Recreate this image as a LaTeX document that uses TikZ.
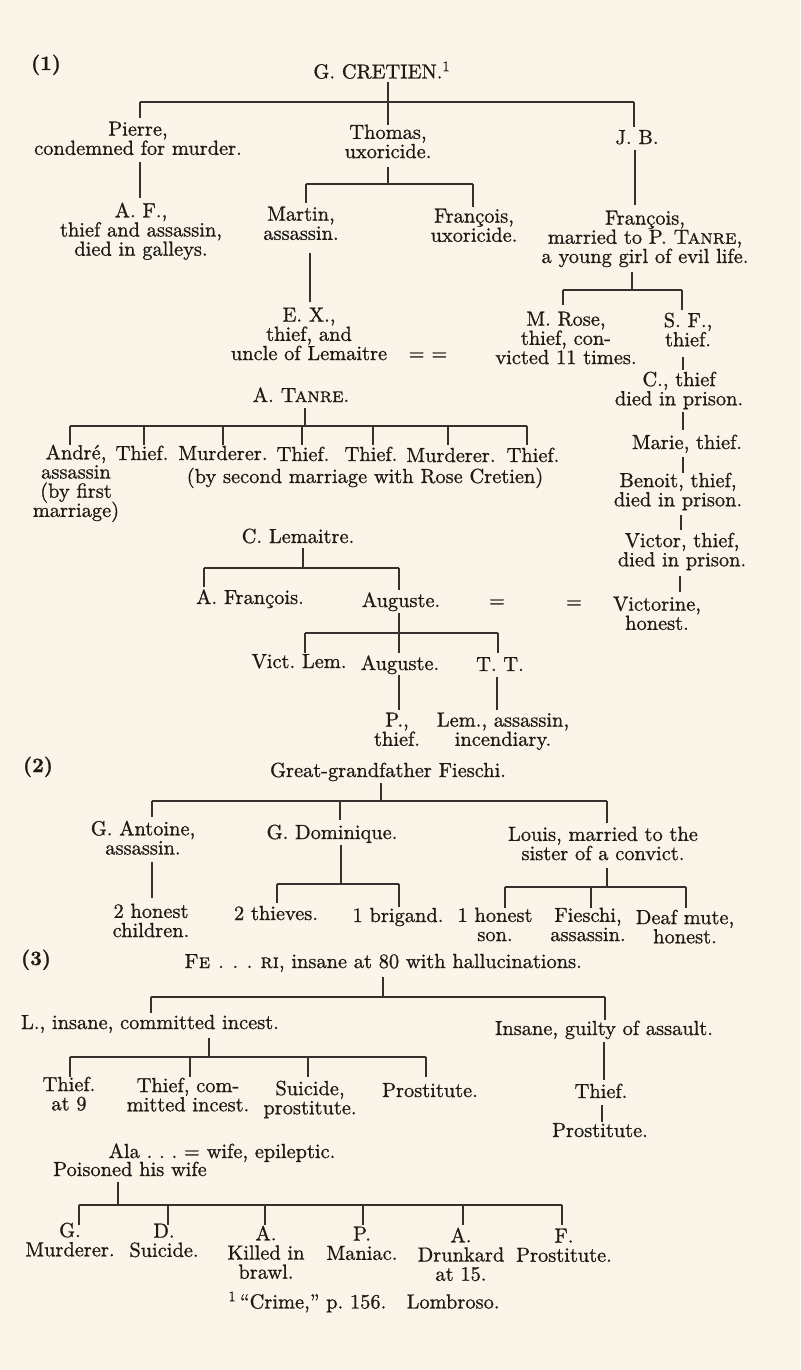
\documentclass[tikz,border=0pt]{standalone}
\usepackage{fontspec}
\setmainfont{lmroman10-regular}[Extension=.otf, BoldFont=lmroman10-bold, SmallCapsFont=lmromancaps10-regular, FakeBold=0.9]
\usepackage{xcolor}
\definecolor{paper}{HTML}{FAF5E8}
\definecolor{ink}{HTML}{1E1A17}
\newcommand\lblfont{\fontsize{10.2}{9.6}\selectfont\frenchspacing\lineskiplimit=-20pt\relax}
\newcommand\lblstrut{\leavevmode\vrule width 0pt height 7.65pt depth 0pt\relax}
\begin{document}
\begin{tikzpicture}[x=0.5pt,y=-0.5pt,
  lbl/.style={anchor=north, yshift=7.65pt, inner sep=0pt, outer sep=0pt, align=center, text=ink,
    font=\lblfont, execute at begin node=\lblstrut},
  ln/.style={draw=ink!90, line width=0.55pt}]
\fill[paper] (0,0) rectangle (800,1370);
\useasboundingbox (0,0) rectangle (800,1370);

% ---------------- (1) Cretien ----------------
\node[lbl] (n1) at (46,70) {\textbf{(1)}};
\node[lbl] (gc) at (382,77) {G. CRETIEN.\textsuperscript{1}};
\node[lbl] (pierre) at (138,137) {Pierre,\\condemned for murder.};
\node[lbl] (thomas) at (388,140) {Thomas,\\uxoricide.};
\node[lbl] (jb) at (637,144) {J. B.};
\node[lbl] (af) at (141,218) {A. F.,\\thief and assassin,\\died in galleys.};
\node[lbl] (martin) at (301,222) {Martin,\\assassin.};
\node[lbl] (fra) at (474,224) {François,\\uxoricide.};
\node[lbl] (frb) at (645,226) {François,\\married to P. \textsc{Tanre},\\a young girl of evil life.};
\node[lbl] (ex) at (309,323) {E. X.,\\thief, and\\uncle of Lemaitre};
\node[lbl] (eqa) at (428,360) {= =};
\node[lbl] (rose) at (566,327) {M. Rose,\\thief, con-\\victed 11 times.};
\node[lbl] (sf) at (688,328) {S. F.,\\thief.};
\node[lbl] (cth) at (679,387) {C., thief\\died in prison.};
\node[lbl] (tanre) at (301,402) {A. \textsc{Tanre}.};
\node[lbl] (marie) at (687,449) {Marie, thief.};
\node[lbl] (andre) at (76,460) {André,\\assassin\\(by first\\marriage)};
\node[lbl] (k2) at (142,460) {Thief.};
\node[lbl] (k3) at (223,460) {Murderer.};
\node[lbl] (k4) at (303,461) {Thief.};
\node[lbl] (k5) at (371,461) {Thief.};
\node[lbl] (k6) at (451,462) {Murderer.};
\node[lbl] (k7) at (533,462) {Thief.};
\node[lbl] (second) at (365,483) {(by second marriage with Rose Cretien)};
\node[lbl] (benoit) at (678,488) {Benoit, thief,\\died in prison.};
\node[lbl] (victor) at (682,548) {Victor, thief,\\died in prison.};
\node[lbl] (clem) at (298,543) {C. Lemaitre.};
\node[lbl] (afr) at (250,604) {A. François.};
\node[lbl] (aug) at (401,607) {Auguste.};
\node[lbl] (eqb) at (497,607) {=};
\node[lbl] (eqc) at (574,608) {=};
\node[lbl] (victorine) at (657,612) {Victorine,\\honest.};
\node[lbl] (vict) at (299,668) {Vict. Lem.};
\node[lbl] (augb) at (400,670) {Auguste.};
\node[lbl] (tt) at (500,671) {T. T.};
\node[lbl] (pth) at (397,728) {P.,\\thief.};
\node[lbl] (lemas) at (503,728) {Lem., assassin,\\incendiary.};

% ---------------- (2) Fieschi ----------------
\node[lbl] (n2) at (38,772) {\textbf{(2)}};
\node[lbl] (ggf) at (388,777) {Great-grandfather Fieschi.};
\node[lbl] (ant) at (143,836) {G. Antoine,\\assassin.};
\node[lbl] (dom) at (332,839) {G. Dominique.};
\node[lbl] (louis) at (603,842) {Louis, married to the\\sister of a convict.};
\node[lbl] (hon2) at (151,919) {2 honest\\children.};
\node[lbl] (thv) at (276,920) {2 thieves.};
\node[lbl] (brig) at (398,922) {1 brigand.};
\node[lbl] (hon1) at (495,923) {1 honest\\son.};
\node[lbl] (fies) at (588,923) {Fieschi,\\assassin.};
\node[lbl] (deaf) at (685,925) {Deaf mute,\\honest.};

% ---------------- (3) Fe...ri ----------------
\node[lbl] (n3) at (36,965) {\textbf{(3)}};
\node[lbl] (feri) at (383,968) {\textsc{Fe . . . ri}, insane at 80 with hallucinations.};
\node[lbl] (lins) at (150,1029) {L., insane, committed incest.};
\node[lbl] (ins) at (604,1035) {Insane, guilty of assault.};
\node[lbl] (t1) at (69,1092) {Thief.\\at 9};
\node[lbl] (t2) at (188,1093) {Thief, com-\\mitted incest.};
\node[lbl] (t3) at (310,1096) {Suicide,\\prostitute.};
\node[lbl] (t4) at (430,1097) {Prostitute.};
\node[lbl] (thr) at (601,1098) {Thief.};
\node[lbl] (prr) at (600,1137) {Prostitute.};
\node[lbl] (ala) at (222,1158) {Ala . . . = wife, epileptic.};
\node[lbl] (pois) at (130,1176) {Poisoned his wife};
\node[lbl] (g1) at (70,1238) {G.\\Murderer.};
\node[lbl] (g2) at (164,1239) {D.\\Suicide.};
\node[lbl] (g3) at (266,1241) {A.\\Killed in\\brawl.};
\node[lbl] (g4) at (362,1242) {P.\\Maniac.};
\node[lbl] (g5) at (461,1243) {A.\\Drunkard\\at 15.};
\node[lbl] (g6) at (564,1244) {F.\\Prostitute.};
\node[lbl] (foot) at (364,1307) {\textsuperscript{1}\,“Crime,” p. 156.\quad Lombroso.};

% ---------------- connectors ----------------
% G. Cretien
\coordinate (gcA) at (388,82); \coordinate (gcB) at (388,102);
\coordinate (gcL) at (140,102); \coordinate (gcR) at (634,102);
\coordinate (gc1) at (140,118); \coordinate (gc2) at (388,125); \coordinate (gc3) at (634,127);
\draw[ln] (gcA) -- (gcB) (gcL) -- (gcR) (gcL) -- (gc1) (gcB) -- (gc2) (gcR) -- (gc3);
% Pierre -> A. F.
\coordinate (paA) at (140,162); \coordinate (paB) at (140,198);
\draw[ln] (paA) -- (paB);
% Thomas
\coordinate (thA) at (388,167); \coordinate (thB) at (388,184);
\coordinate (thL) at (306,184); \coordinate (thR) at (473,184);
\coordinate (th1) at (306,203); \coordinate (th2) at (473,207);
\draw[ln] (thA) -- (thB) (thL) -- (thR) (thL) -- (th1) (thR) -- (th2);
% J. B. -> Francois
\coordinate (jbA) at (635,150); \coordinate (jbB) at (635,205);
\draw[ln] (jbA) -- (jbB);
% Martin -> E. X.
\coordinate (maA) at (310,253); \coordinate (maB) at (310,302);
\draw[ln] (maA) -- (maB);
% Francois (married to P. Tanre)
\coordinate (frA) at (632,272); \coordinate (frB) at (632,290);
\coordinate (frL) at (563,290); \coordinate (frR) at (682,290);
\coordinate (fr1) at (563,305); \coordinate (fr2) at (682,310);
\draw[ln] (frA) -- (frB) (frL) -- (frR) (frL) -- (fr1) (frR) -- (fr2);
% right column chain
\coordinate (sfA) at (683,357); \coordinate (sfB) at (683,370);
\coordinate (ctA) at (683,412); \coordinate (ctB) at (683,430);
\coordinate (mrA) at (683,457); \coordinate (mrB) at (683,473);
\coordinate (bnA) at (681,515); \coordinate (bnB) at (681,530);
\coordinate (vcA) at (680,576); \coordinate (vcB) at (680,592);
\draw[ln] (sfA) -- (sfB) (ctA) -- (ctB) (mrA) -- (mrB) (bnA) -- (bnB) (vcA) -- (vcB);
% A. Tanre
\coordinate (taA) at (305,408); \coordinate (taB) at (305,426);
\coordinate (taL) at (70,426); \coordinate (taR) at (527,426);
\draw[ln] (taA) -- (taB) (taL) -- (taR);
\foreach \i/\x in {1/70,2/144,3/223,4/302,5/373,6/448,7/527}{
  \coordinate (taT\i) at (\x,426); \coordinate (taE\i) at (\x,445);
  \draw[ln] (taT\i) -- (taE\i);}
% C. Lemaitre
\coordinate (leA) at (303,548); \coordinate (leB) at (303,568);
\coordinate (leL) at (204,568); \coordinate (leR) at (399,568);
\coordinate (le1) at (204,587); \coordinate (le2) at (399,590);
\draw[ln] (leA) -- (leB) (leL) -- (leR) (leL) -- (le1) (leR) -- (le2);
% Auguste
\coordinate (auA) at (399,613); \coordinate (auB) at (399,633);
\coordinate (auL) at (305,633); \coordinate (auR) at (498,633);
\draw[ln] (auA) -- (auB) (auL) -- (auR);
\foreach \i/\x in {1/305,2/399,3/498}{
  \coordinate (auT\i) at (\x,633); \coordinate (auE\i) at (\x,653);
  \draw[ln] (auT\i) -- (auE\i);}
\coordinate (a2A) at (399,675); \coordinate (a2B) at (399,710);
\coordinate (ttA) at (497,677); \coordinate (ttB) at (497,710);
\draw[ln] (a2A) -- (a2B) (ttA) -- (ttB);
% Great-grandfather Fieschi
\coordinate (gfA) at (381,783); \coordinate (gfB) at (381,801);
\coordinate (gfL) at (152,801); \coordinate (gfR) at (607,801);
\coordinate (gf1) at (152,817); \coordinate (gf2) at (340,820); \coordinate (gf2t) at (340,801);
\coordinate (gf3) at (607,823);
\draw[ln] (gfA) -- (gfB) (gfL) -- (gfR) (gfL) -- (gf1) (gf2t) -- (gf2) (gfR) -- (gf3);
\coordinate (anA) at (152,862); \coordinate (anB) at (152,898);
\draw[ln] (anA) -- (anB);
\coordinate (doA) at (341,845); \coordinate (doB) at (341,884);
\coordinate (doL) at (277,884); \coordinate (doR) at (399,884);
\coordinate (do1) at (277,903); \coordinate (do2) at (399,907);
\draw[ln] (doA) -- (doB) (doL) -- (doR) (doL) -- (do1) (doR) -- (do2);
\coordinate (loA) at (607,868); \coordinate (loB) at (607,887);
\coordinate (loL) at (505,887); \coordinate (loR) at (686,887);
\draw[ln] (loA) -- (loB) (loL) -- (loR);
\foreach \i/\x in {1/505,2/591,3/686}{
  \coordinate (loT\i) at (\x,887); \coordinate (loE\i) at (\x,908);
  \draw[ln] (loT\i) -- (loE\i);}
% Fe...ri
\coordinate (feA) at (383,977); \coordinate (feB) at (383,997);
\coordinate (feL) at (151,997); \coordinate (feR) at (605,997);
\coordinate (fe1) at (151,1013); \coordinate (fe2) at (605,1020);
\draw[ln] (feA) -- (feB) (feL) -- (feR) (feL) -- (fe1) (feR) -- (fe2);
\coordinate (liA) at (209,1038); \coordinate (liB) at (209,1057);
\coordinate (liL) at (70,1057); \coordinate (liR) at (426,1057);
\draw[ln] (liA) -- (liB) (liL) -- (liR);
\foreach \i/\x in {1/70,2/190,3/308,4/426}{
  \coordinate (liT\i) at (\x,1057); \coordinate (liE\i) at (\x,1077);
  \draw[ln] (liT\i) -- (liE\i);}
\coordinate (inA) at (604,1042); \coordinate (inB) at (604,1080);
\coordinate (thrA) at (602,1105); \coordinate (thrB) at (602,1122);
\draw[ln] (inA) -- (inB) (thrA) -- (thrB);
% Ala
\coordinate (poA) at (118,1182); \coordinate (poB) at (118,1205);
\coordinate (poL) at (79,1205); \coordinate (poR) at (562,1205);
\draw[ln] (poA) -- (poB) (poL) -- (poR);
\foreach \i/\x in {1/79,2/168,3/265,4/363,5/463,6/562}{
  \coordinate (poT\i) at (\x,1205); \coordinate (poE\i) at (\x,1225);
  \draw[ln] (poT\i) -- (poE\i);}
\end{tikzpicture}
\end{document}
